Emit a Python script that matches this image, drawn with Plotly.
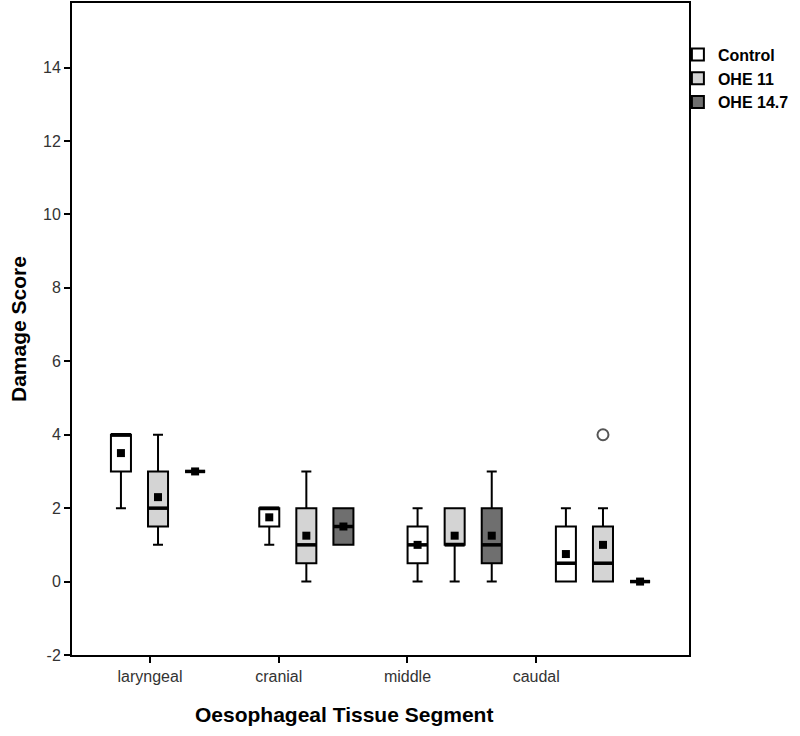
import plotly.graph_objects as go

segments = ["laryngeal", "cranial", "middle", "caudal"]
groups = ["Control", "OHE 11", "OHE 14.7"]

# summary statistics per group, one value per segment
q1 = {"Control": [3, 1.5, 0.5, 0], "OHE 11": [1.5, 0.5, 1, 0], "OHE 14.7": [3, 1, 0.5, 0]}
median = {"Control": [4, 2, 1, 0.5], "OHE 11": [2, 1, 1, 0.5], "OHE 14.7": [3, 1.5, 1, 0]}
q3 = {"Control": [4, 2, 1.5, 1.5], "OHE 11": [3, 2, 2, 1.5], "OHE 14.7": [3, 2, 2, 0]}
low = {"Control": [2, 1, 0, 0], "OHE 11": [1, 0, 0, 0], "OHE 14.7": [3, 1, 0, 0]}
high = {"Control": [4, 2, 2, 2], "OHE 11": [4, 3, 2, 2], "OHE 14.7": [3, 2, 3, 0]}
mean = {"Control": [3.5, 1.75, 1.0, 0.75], "OHE 11": [2.3, 1.25, 1.25, 1.0], "OHE 14.7": [3, 1.5, 1.25, 0]}
outlier_segment = ["caudal"]
outlier_group = ["OHE 11"]
outlier_value = [4]

y_ticks = [-2, 0, 2, 4, 6, 8, 10, 12, 14]
y_tick_text = ["-2", "0", "2", "4", "6", "8", "10", "12", "14"]

# layout / style
fills = {"Control": "#ffffff", "OHE 11": "#d4d4d4", "OHE 14.7": "#6f6f6f"}
offset = {"Control": -0.25, "OHE 11": 0.0, "OHE 14.7": 0.25}
box_w = 0.135
tick_pos = [i * 0.868 - 0.054 for i in range(len(segments))]

def pos(g, i):
    return i + offset[g]

fig = go.Figure()
for g in groups:
    xs = [pos(g, i) for i in range(len(segments))]
    fig.add_trace(go.Box(
        name=g, x=xs, q1=q1[g], median=median[g], q3=q3[g],
        lowerfence=low[g], upperfence=high[g],
        width=box_w, whiskerwidth=0.5,
        fillcolor=fills[g], line=dict(color="black", width=2),
        boxpoints=False, hoverinfo="skip", showlegend=True,
    ))

# thicker median lines
for g in groups:
    mx, my = [], []
    for i in range(len(segments)):
        c = pos(g, i)
        mx += [c - box_w / 2, c + box_w / 2, None]
        my += [median[g][i], median[g][i], None]
    fig.add_trace(go.Scatter(x=mx, y=my, mode="lines", line=dict(color="black", width=3.5),
                             showlegend=False, hoverinfo="skip"))

# mean markers
for g in groups:
    fig.add_trace(go.Scatter(
        x=[pos(g, i) for i in range(len(segments))], y=mean[g], mode="markers",
        marker=dict(symbol="square", size=8, color="black"),
        showlegend=False, hoverinfo="skip"))

# outliers
fig.add_trace(go.Scatter(
    x=[pos(g, segments.index(s)) for s, g in zip(outlier_segment, outlier_group)],
    y=outlier_value, mode="markers",
    marker=dict(symbol="circle-open", size=11, color="#555555", line=dict(width=2)),
    showlegend=False, hoverinfo="skip"))

fig.update_layout(
    width=800, height=736,
    margin=dict(l=72, r=111, t=3, b=81, autoexpand=False),
    paper_bgcolor="white", plot_bgcolor="white",
    font=dict(family="Liberation Sans, Arial, sans-serif", color="#333333"),
    showlegend=True,
    legend=dict(x=0.982, y=0.947, xanchor="left", yanchor="top",
                font=dict(size=16, color="black", weight="bold",
                          family="Liberation Sans, Arial, sans-serif"),
                bgcolor="rgba(0,0,0,0)", tracegroupgap=0, itemwidth=30),
    boxmode="overlay",
    annotations=[
        dict(text="<b>Damage Score</b>", xref="paper", yref="paper", x=-0.0875, y=0.5,
             textangle=-90, showarrow=False, xanchor="center", yanchor="middle",
             font=dict(size=21, color="black")),
        dict(text="<b>Oesophageal Tissue Segment</b>", xref="paper", yref="paper",
             x=0.441, y=-0.092, showarrow=False, xanchor="center", yanchor="middle",
             font=dict(size=21, color="black")),
    ],
)
fig.update_xaxes(
    range=[-0.58, 3.58], tickmode="array", tickvals=tick_pos, ticktext=segments,
    showgrid=False, zeroline=False, showline=True, linecolor="black", linewidth=2, mirror=True,
    ticks="outside", ticklen=6, tickwidth=2, tickcolor="black", automargin=False,
    tickfont=dict(size=16, color="#333333"),
)
fig.update_yaxes(
    range=[-2, 15.76], tickmode="array", tickvals=y_ticks, ticktext=y_tick_text,
    showgrid=False, zeroline=False, showline=True, linecolor="black", linewidth=2, mirror=True,
    ticks="outside", ticklen=6, tickwidth=2, tickcolor="black", automargin=False,
    tickfont=dict(size=16, color="#333333"),
)

fig.write_html("out.html", config={"displayModeBar": False},
               post_script="document.body.style.margin='0';")
